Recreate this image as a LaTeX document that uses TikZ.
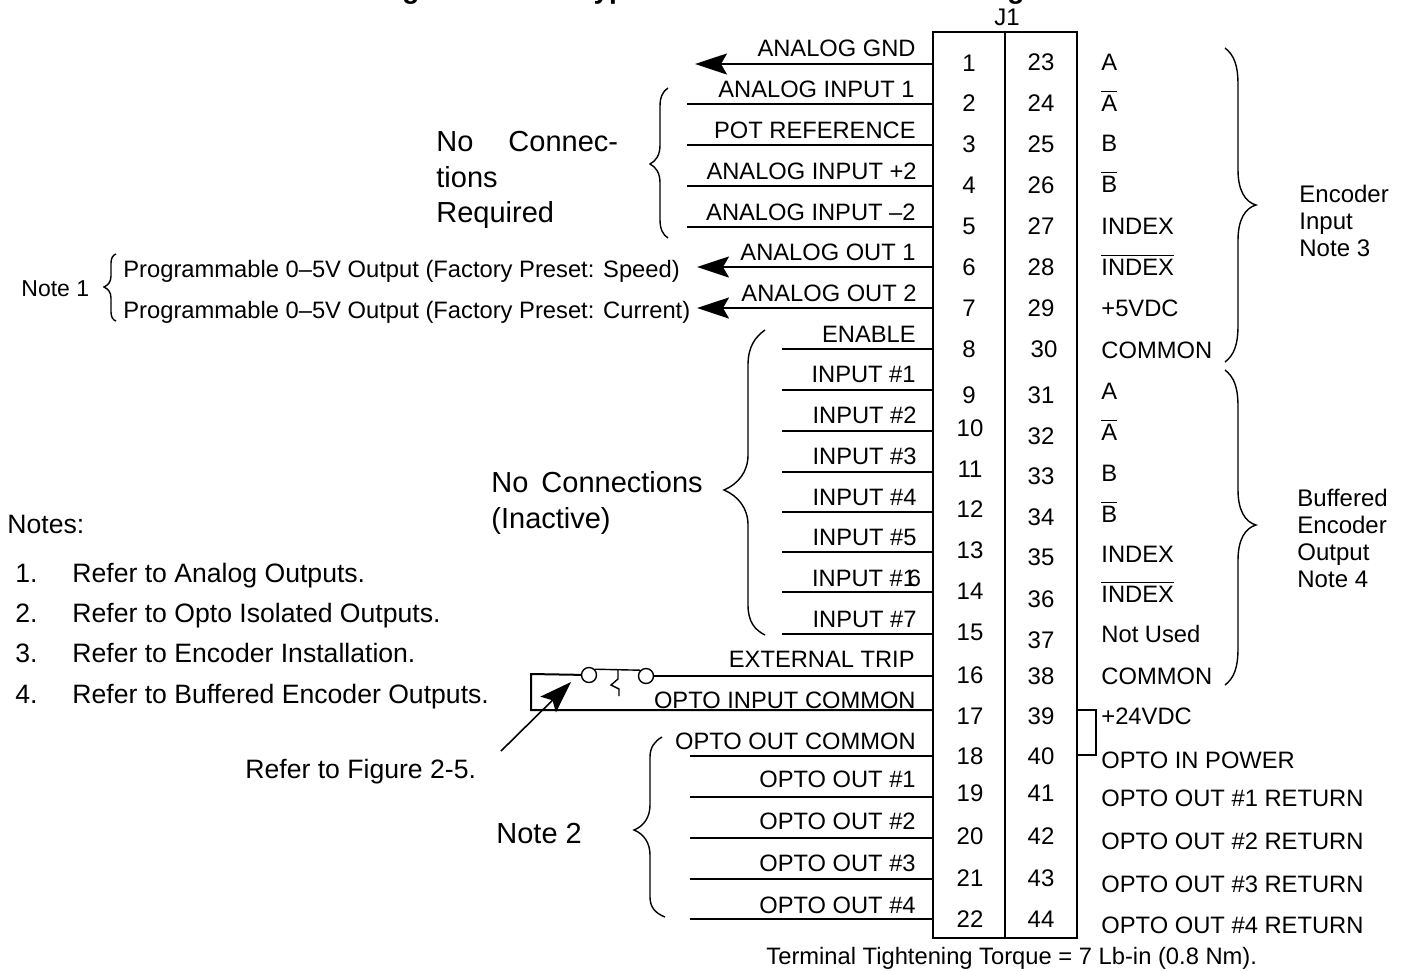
\documentclass[tikz,border=0pt]{standalone}
\usepackage{amsmath}
\usepackage{fontspec}
\setmainfont{Liberation Sans}
\usetikzlibrary{arrows.meta}
\newcommand{\barred}[1]{$\overline{\mbox{#1}}$}
\tikzset{
    wire/.style={line width=1pt},
    brace/.style={line width=0.7pt},
    bigarrow/.style={line width=1pt,-{Stealth[length=16pt,width=10.5pt,inset=3pt]}},
    wirelabel/.style={anchor=base east,inner sep=0pt,font=\fontsize{11.85}{14}\selectfont},
    termlabel/.style={anchor=base west,inner sep=0pt,font=\fontsize{11.87}{14}\selectfont},
    pinnum/.style={inner sep=0pt,font=\fontsize{12}{14}\selectfont},
    bigtext/.style={anchor=west,inner sep=0pt,align=left,font=\fontsize{14.5}{17.7}\selectfont},
    notetext/.style={anchor=base west,inner sep=0pt,font=\fontsize{13.3}{15}\selectfont},
    sidetext/.style={anchor=west,inner sep=0pt,align=left,font=\fontsize{12}{13.5}\selectfont}
}
\begin{document}
\begin{tikzpicture}[x=0.5pt,y=-0.5pt]
    \useasboundingbox (0,0) rectangle (1407,970);
    % only the tails of the heading are left on the page
    \node[anchor=base,inner sep=0pt,font=\fontsize{14}{16}\bfseries\selectfont] (headA) at (411,-1.5) {g};
    \node[anchor=base,inner sep=0pt,font=\fontsize{14}{16}\bfseries\selectfont] (headB) at (610,-1.5) {yp};
    \node[anchor=base,inner sep=0pt,font=\fontsize{14}{16}\bfseries\selectfont] (headC) at (1016,-1.5) {g};
    % terminal block
    \node[draw,line width=1.2pt,minimum width=72pt,minimum height=453pt,outer sep=0pt,inner sep=0pt] (jbox) at (1005,485) {};
    \draw[line width=0.7pt] (jbox.north) -- (jbox.south);
    \node[pinnum] (jname) at (1007,17) {J1};
    % pin numbers, left row
    \node[pinnum] (p1) at (969,63) {1};
    \node[pinnum] (p2) at (969,103) {2};
    \node[pinnum] (p3) at (969,144) {3};
    \node[pinnum] (p4) at (969,185) {4};
    \node[pinnum] (p5) at (969,226) {5};
    \node[pinnum] (p6) at (969,267) {6};
    \node[pinnum] (p7) at (969,308) {7};
    \node[pinnum] (p8) at (969,349) {8};
    \node[pinnum] (p9) at (969,395) {9};
    \node[pinnum] (p10) at (970,428) {10};
    \node[pinnum] (p11) at (970,469) {11};
    \node[pinnum] (p12) at (970,509) {12};
    \node[pinnum] (p13) at (970,550) {13};
    \node[pinnum] (p14) at (970,591) {14};
    \node[pinnum] (p15) at (970,632) {15};
    \node[pinnum] (p16) at (970,675) {16};
    \node[pinnum] (p17) at (970,716) {17};
    \node[pinnum] (p18) at (970,756) {18};
    \node[pinnum] (p19) at (970,793) {19};
    \node[pinnum] (p20) at (970,836) {20};
    \node[pinnum] (p21) at (970,878) {21};
    \node[pinnum] (p22) at (970,919) {22};
    % pin numbers, right row
    \node[pinnum] (p23) at (1041,62) {23};
    \node[pinnum] (p24) at (1041,103) {24};
    \node[pinnum] (p25) at (1041,144) {25};
    \node[pinnum] (p26) at (1041,185) {26};
    \node[pinnum] (p27) at (1041,226) {27};
    \node[pinnum] (p28) at (1041,267) {28};
    \node[pinnum] (p29) at (1041,308) {29};
    \node[pinnum] (p30) at (1044,349) {30};
    \node[pinnum] (p31) at (1041,395) {31};
    \node[pinnum] (p32) at (1041,436) {32};
    \node[pinnum] (p33) at (1041,476) {33};
    \node[pinnum] (p34) at (1041,517) {34};
    \node[pinnum] (p35) at (1041,557) {35};
    \node[pinnum] (p36) at (1041,599) {36};
    \node[pinnum] (p37) at (1041,640) {37};
    \node[pinnum] (p38) at (1041,676) {38};
    \node[pinnum] (p39) at (1041,716) {39};
    \node[pinnum] (p40) at (1041,756) {40};
    \node[pinnum] (p41) at (1041,793) {41};
    \node[pinnum] (p42) at (1041,836) {42};
    \node[pinnum] (p43) at (1041,878) {43};
    \node[pinnum] (p44) at (1041,919) {44};
    % wire labels
    \node[wirelabel] (l1) at (916,56) {ANALOG GND};
    \node[wirelabel] (l2) at (915,97) {ANALOG INPUT 1};
    \node[wirelabel] (l3) at (916,138) {POT REFERENCE};
    \node[wirelabel] (l4) at (917,179) {ANALOG INPUT +2};
    \node[wirelabel] (l5) at (916,220) {ANALOG INPUT --2};
    \node[wirelabel] (l6) at (916,260) {ANALOG OUT 1};
    \node[wirelabel] (l7) at (917,301) {ANALOG OUT 2};
    \node[wirelabel] (l8) at (916,342) {ENABLE};
    \node[wirelabel] (l9) at (916,382) {INPUT \#1};
    \node[wirelabel] (l10) at (917,423) {INPUT \#2};
    \node[wirelabel] (l11) at (917,464) {INPUT \#3};
    \node[wirelabel] (l12) at (917,505) {INPUT \#4};
    \node[wirelabel] (l13) at (917,545) {INPUT \#5};
    \node[wirelabel] (l14) at (921.5,586) {INPUT \#\rlap{1}\hspace{2.5pt}6};
    \node[wirelabel] (l15) at (917,627) {INPUT \#7};
    \node[wirelabel] (l16) at (915,667) {EXTERNAL TRIP};
    \node[wirelabel] (l17) at (916,708) {OPTO INPUT COMMON};
    \node[wirelabel] (l18) at (916,749) {OPTO OUT COMMON};
    \node[wirelabel] (l19) at (916,787) {OPTO OUT \#1};
    \node[wirelabel] (l20) at (916,829) {OPTO OUT \#2};
    \node[wirelabel] (l21) at (916,871) {OPTO OUT \#3};
    \node[wirelabel] (l22) at (916,913) {OPTO OUT \#4};
    % wires, free ends
    \coordinate (e1) at (695,64); \coordinate (e2) at (687,104);
    \coordinate (e3) at (687,145); \coordinate (e4) at (687,186);
    \coordinate (e5) at (687,227); \coordinate (e6) at (697,267);
    \coordinate (e7) at (697,308); \coordinate (e8) at (782,349);
    \coordinate (e9) at (782,390); \coordinate (e10) at (782,431);
    \coordinate (e11) at (782,472); \coordinate (e12) at (782,512);
    \coordinate (e13) at (782,552); \coordinate (e14) at (782,592);
    \coordinate (e15) at (782,634); \coordinate (e18) at (690,756);
    \coordinate (e19) at (690,797); \coordinate (e20) at (690,838);
    \coordinate (e21) at (690,879); \coordinate (e22) at (690,919);
    \draw[bigarrow] (e1 -| jbox.west) -- (e1);
    \draw[wire] (e2) -- (e2 -| jbox.west); \draw[wire] (e3) -- (e3 -| jbox.west);
    \draw[wire] (e4) -- (e4 -| jbox.west); \draw[wire] (e5) -- (e5 -| jbox.west);
    \draw[bigarrow] (e6 -| jbox.west) -- (e6); \draw[bigarrow] (e7 -| jbox.west) -- (e7);
    \draw[wire] (e8) -- (e8 -| jbox.west); \draw[wire] (e9) -- (e9 -| jbox.west);
    \draw[wire] (e10) -- (e10 -| jbox.west); \draw[wire] (e11) -- (e11 -| jbox.west);
    \draw[wire] (e12) -- (e12 -| jbox.west); \draw[wire] (e13) -- (e13 -| jbox.west);
    \draw[wire] (e14) -- (e14 -| jbox.west); \draw[wire] (e15) -- (e15 -| jbox.west);
    \draw[wire] (e18) -- (e18 -| jbox.west); \draw[wire] (e19) -- (e19 -| jbox.west);
    \draw[wire] (e20) -- (e20 -| jbox.west); \draw[wire] (e21) -- (e21 -| jbox.west);
    \draw[wire] (e22) -- (e22 -| jbox.west);
    % trip contact and its loop
    \node[draw,circle,line width=0.7pt,minimum size=7.5pt,inner sep=0pt] (cl) at (589,675) {};
    \node[draw,circle,line width=0.7pt,minimum size=7.5pt,inner sep=0pt] (cr) at (646,676) {};
    \coordinate (tl) at (531,674); \coordinate (bl) at (531,710);
    \draw[line width=0.7pt] (cl.north east) -- (cr.north west);
    \draw[line width=0.7pt] (618,670) -- (618,679) -- (611,685) -- (619,689) -- (619,696);
    \draw[wire] (cr) -- (cr -| jbox.west);
    \draw[wire] (cl) -- (tl) -- (bl) -- (bl -| jbox.west);
    \coordinate (figtail) at (501,751); \coordinate (figtip) at (571,682);
    \draw[line width=0.8pt,-{Stealth[length=16pt,width=11pt,inset=3pt]}] (figtail) -- (figtip);
    \node[notetext] (figref) at (245,778) {Refer to Figure 2-5.};
    % terminal labels
    \node[termlabel] (t23) at (1101,70) {A};
    \node[termlabel] (t24) at (1101,111) {\barred{A}};
    \node[termlabel] (t25) at (1101,151) {B};
    \node[termlabel] (t26) at (1101,192) {\barred{B}};
    \node[termlabel] (t27) at (1101,234) {INDEX};
    \node[termlabel] (t28) at (1101,275) {\barred{INDEX}};
    \node[termlabel] (t29) at (1101,316) {+5VDC};
    \node[termlabel] (t30) at (1101,358) {COMMON};
    \node[termlabel] (t31) at (1101,399) {A};
    \node[termlabel] (t32) at (1101,440) {\barred{A}};
    \node[termlabel] (t33) at (1101,481) {B};
    \node[termlabel] (t34) at (1101,522) {\barred{B}};
    \node[termlabel] (t35) at (1101,562) {INDEX};
    \node[termlabel] (t36) at (1101,602) {\barred{INDEX}};
    \node[termlabel] (t37) at (1101,642) {Not Used};
    \node[termlabel] (t38) at (1101,684) {COMMON};
    \node[termlabel] (t39) at (1101,724) {+24VDC};
    \node[termlabel] (t40) at (1101,768) {OPTO IN POWER};
    \node[termlabel] (t41) at (1101,806) {OPTO OUT \#1 RETURN};
    \node[termlabel] (t42) at (1101,849) {OPTO OUT \#2 RETURN};
    \node[termlabel] (t43) at (1101,892) {OPTO OUT \#3 RETURN};
    \node[termlabel] (t44) at (1101,933) {OPTO OUT \#4 RETURN};
    % jumper 39 to 40
    \coordinate (ja) at (1096,710); \coordinate (jb) at (1096,755);
    \draw[line width=0.7pt] (ja -| jbox.east) -- (ja) -- (jb) -- (jb -| jbox.east);
    % braces
    \draw[brace] (1225,48) .. controls (1234,55) and (1238,65) .. (1238,85) -- (1238,170) .. controls (1238,190) and (1245,202) .. (1256,205) .. controls (1245,208) and (1238,220) .. (1238,240) -- (1238,325) .. controls (1238,345) and (1234,355) .. (1225,362);
    \draw[brace] (1225,370) .. controls (1234,377) and (1238,387) .. (1238,407) -- (1238,490) .. controls (1238,510) and (1245,522) .. (1256,525) .. controls (1245,528) and (1238,540) .. (1238,560) -- (1238,648) .. controls (1238,668) and (1234,678) .. (1225,685);
    \draw[brace] (668,88) .. controls (663,91) and (660,97) .. (660,106) -- (660,145) .. controls (660,155) and (656,161) .. (650,164) .. controls (656,167) and (660,173) .. (660,183) -- (660,220) .. controls (660,229) and (663,235) .. (668,238);
    \draw[brace] (116,254) .. controls (113,255) and (111,258) .. (111,263) -- (111,276) .. controls (111,282) and (108,285) .. (104,287) .. controls (108,289) and (111,292) .. (111,298) -- (111,312) .. controls (111,317) and (113,320) .. (116,321);
    \draw[brace] (765,330) .. controls (755,337) and (748,347) .. (748,365) -- (748,455) .. controls (748,472) and (738,484) .. (724,490) .. controls (738,496) and (748,508) .. (748,525) -- (748,605) .. controls (748,622) and (755,630) .. (765,635);
    \draw[brace] (662,737) .. controls (655,741) and (650,747) .. (650,757) -- (650,805) .. controls (650,817) and (644,826) .. (634,830) .. controls (644,834) and (650,843) .. (650,855) -- (650,897) .. controls (650,907) and (655,913) .. (665,917);
    % side text
    \node[bigtext] (noconn) at (436,180) {No\hspace{17.5pt}Connec-\\tions\\Required};
    \node[bigtext] (inactive) at (491,503) {No\hspace{6.5pt}Connections\\(Inactive)};
    \node[bigtext] (note2) at (496,834) {Note 2};
    \node[sidetext] (encin) at (1299,221) {Encoder\\Input\\Note 3};
    \node[sidetext] (encout) at (1297,538) {Buffered\\Encoder\\Output\\Note 4};
    \node[anchor=west,inner sep=0pt,font=\fontsize{11.5}{14}\selectfont] (note1) at (21,289) {Note 1};
    \node[termlabel] (prog1) at (123,277) {Programmable 0--5V Output (Factory Preset: Speed)};
    \node[termlabel] (prog2) at (123,318) {Programmable 0--5V Output (Factory Preset: Current)};
    % notes
    \node[notetext] (notes) at (7,533) {Notes:};
    \node[notetext] (n1) at (15,582) {1.}; \node[notetext] (n1t) at (72,582) {Refer to Analog Outputs.};
    \node[notetext] (n2) at (15,622) {2.}; \node[notetext] (n2t) at (72,622) {Refer to Opto Isolated Outputs.};
    \node[notetext] (n3) at (15,662) {3.}; \node[notetext] (n3t) at (72,662) {Refer to Encoder Installation.};
    \node[notetext] (n4) at (15,703) {4.}; \node[notetext] (n4t) at (72,703) {Refer to Buffered Encoder Outputs.};
    \node[termlabel] (torque) at (766,964) {Terminal Tightening Torque = 7 Lb-in (0.8 Nm).};
\end{tikzpicture}
\end{document}
